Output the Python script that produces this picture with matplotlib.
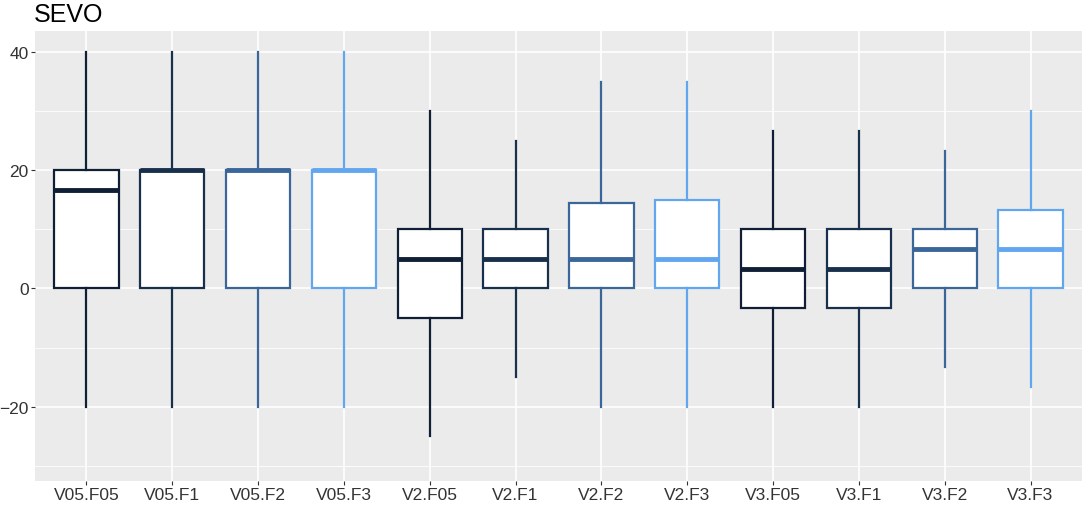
import matplotlib
matplotlib.use("Agg")
import matplotlib.pyplot as plt
from matplotlib.ticker import MultipleLocator

# ---------------- Données
groupes = ["V05.F05", "V05.F1", "V05.F2", "V05.F3",
           "V2.F05", "V2.F1", "V2.F2", "V2.F3",
           "V3.F05", "V3.F1", "V3.F2", "V3.F3"]
moustache_bas = [-20, -20, -20, -20, -25, -15, -20, -20, -20, -20, -13.33, -16.67]
q1 = [0, 0, 0, 0, -5, 0, 0, 0, -3.33, -3.33, 0, 0]
mediane = [16.67, 20, 20, 20, 5, 5, 5, 5, 3.33, 3.33, 6.67, 6.67]
q3 = [20, 20, 20, 20, 10, 10, 14.4, 15, 10, 10, 10, 13.33]
moustache_haut = [40, 40, 40, 40, 30, 25, 35, 35, 26.67, 26.67, 23.33, 30]

couleurs_F = {"F05": "#101F35", "F1": "#19304D", "F2": "#3B6699", "F3": "#62A6F0"}

# ---------------- Figure
fig = plt.figure(figsize=(10.84, 5.06), dpi=100)
ax = fig.add_axes([35 / 1084, 24 / 506, 1047 / 1084, 450 / 506])
ax.set_facecolor("#EBEBEB")

stats = []
for i in range(len(groupes)):
    stats.append({"whislo": moustache_bas[i], "q1": q1[i], "med": mediane[i],
                  "q3": q3[i], "whishi": moustache_haut[i], "fliers": []})

positions = list(range(1, len(groupes) + 1))
bp = ax.bxp(stats, positions=positions, widths=0.75, patch_artist=True,
            showcaps=False, showfliers=False, zorder=3)

for i, g in enumerate(groupes):
    c = couleurs_F[g.split(".")[1]]
    bp["boxes"][i].set(facecolor="white", edgecolor=c, linewidth=1.6)
    bp["medians"][i].set(color=c, linewidth=3.5, solid_capstyle="butt")
    bp["whiskers"][2 * i].set(color=c, linewidth=1.6)
    bp["whiskers"][2 * i + 1].set(color=c, linewidth=1.6)

# ---------------- Axes et grille (style ggplot)
ax.set_xlim(0.4, 12.6)
ax.set_ylim(-32.6, 43.6)
ax.set_xticks(positions)
ax.set_xticklabels(groupes)
ax.yaxis.set_major_locator(MultipleLocator(20))
ax.yaxis.set_minor_locator(MultipleLocator(10))
ax.set_yticks([-20, 0, 20, 40])
ax.set_yticklabels(["\u221220", "0", "20", "40"])

ax.grid(True, which="major", color="white", linewidth=1.2, zorder=0)
ax.grid(True, which="minor", axis="y", color="white", linewidth=0.6, zorder=0)
ax.set_axisbelow(True)
for s in ax.spines.values():
    s.set_visible(False)

ax.tick_params(axis="both", which="major", length=3, width=0.8, color="#333333",
               labelsize=12.5, labelcolor="#333333", pad=1.5)
ax.tick_params(axis="y", which="minor", length=0)
for lab in ax.get_xticklabels() + ax.get_yticklabels():
    lab.set_family(["Liberation Sans", "DejaVu Sans"])

fig.text(34 / 1084, 1 - 15 / 506, "SEVO", fontsize=18, va="center", ha="left",
         family=["Liberation Sans", "DejaVu Sans"])

fig.savefig("out.png", dpi=100)
